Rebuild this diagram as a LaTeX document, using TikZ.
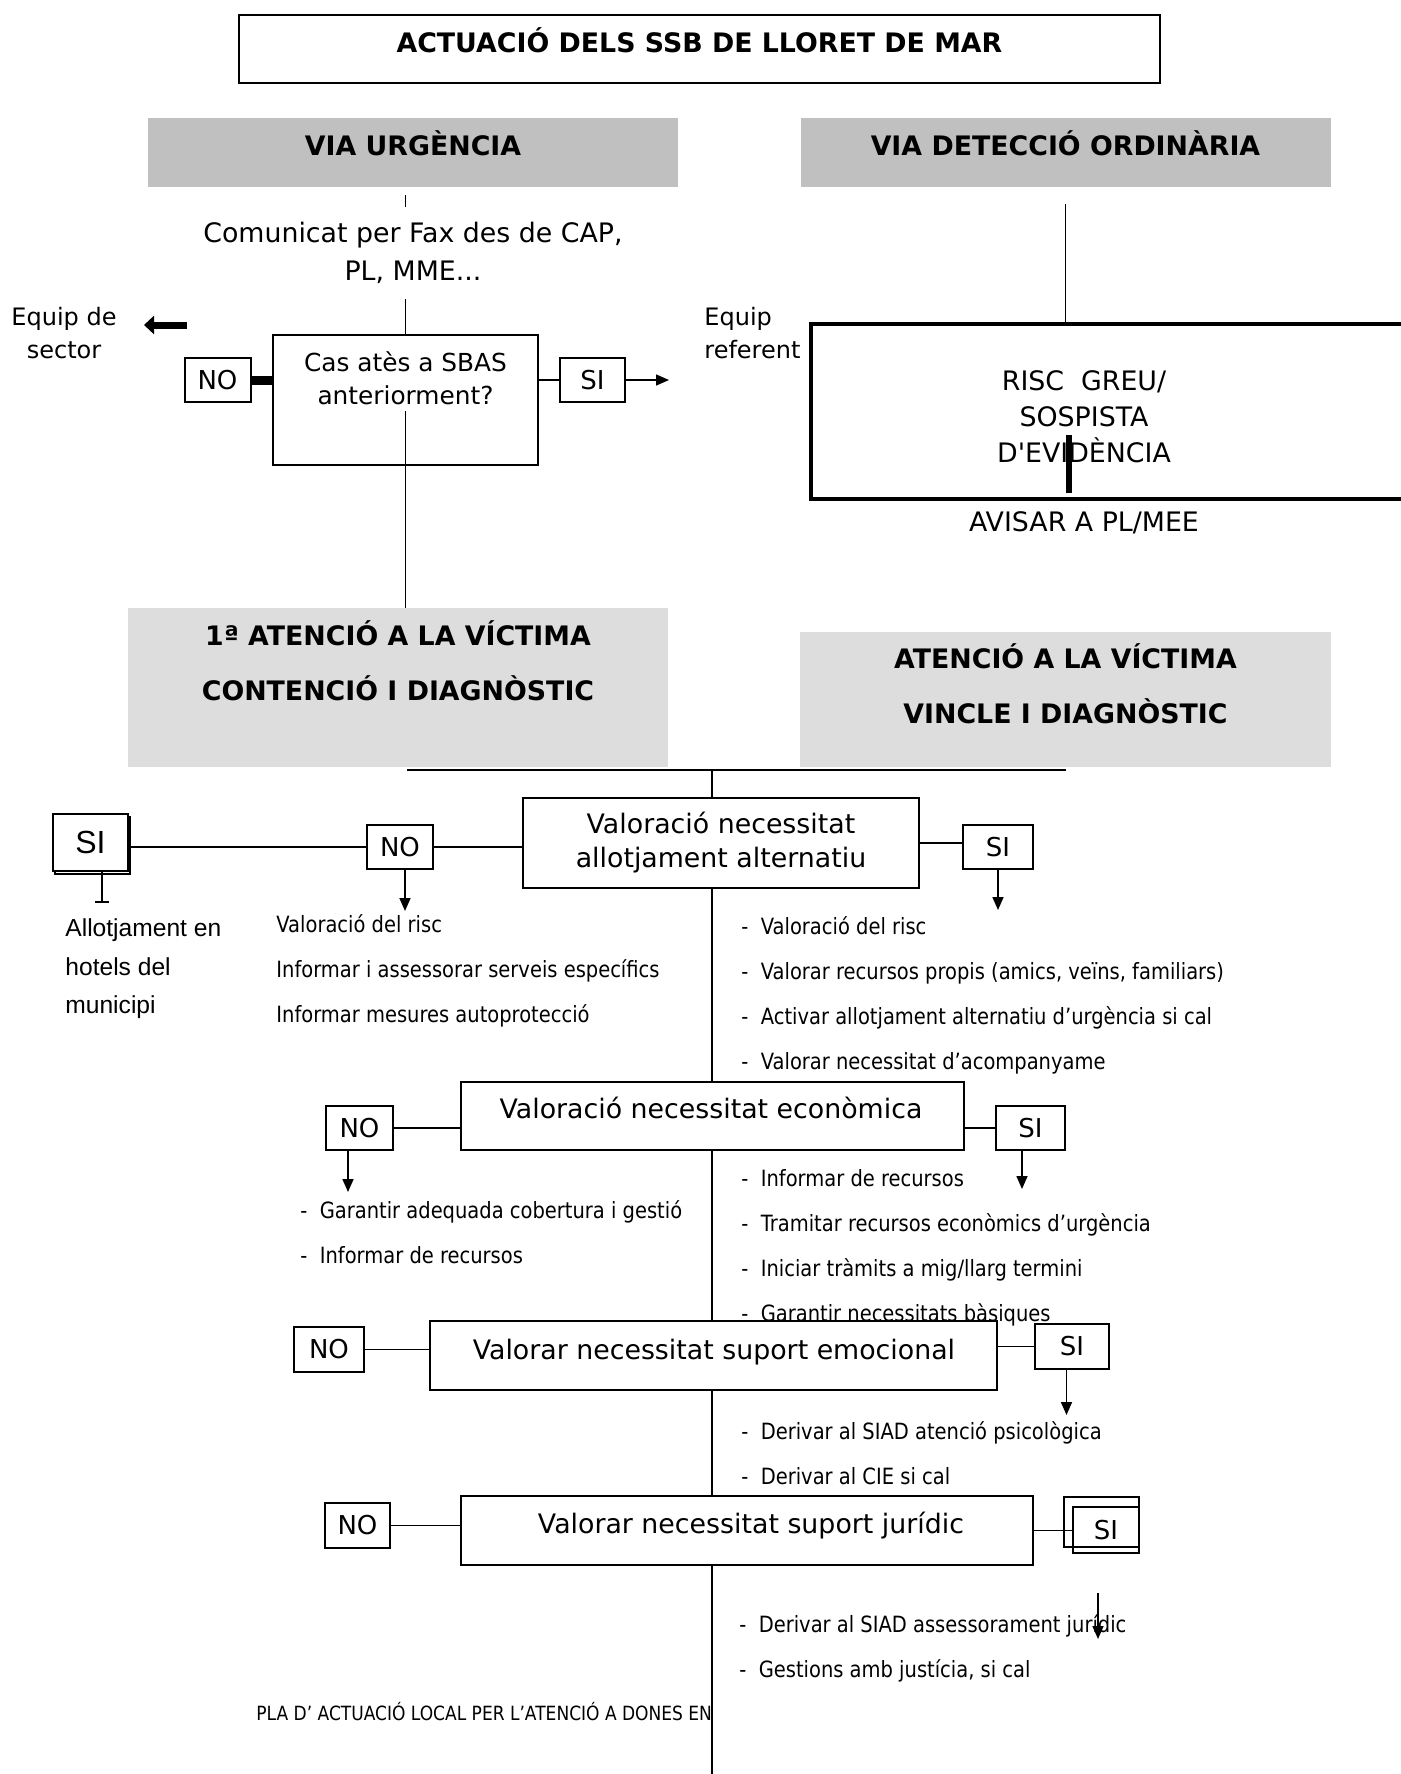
\documentclass[tikz,border=0pt]{standalone}
\usepackage{fontspec}
\setmainfont{DejaVu Sans}
\newfontfamily\listfont{DejaVu Sans}[FakeStretch=0.87]
\newfontfamily\arialfont{Liberation Sans}
\usetikzlibrary{arrows.meta,shadows}
\definecolor{viagray}{HTML}{C0C0C0}
\definecolor{atengray}{HTML}{DDDDDD}

\begin{document}
\begin{tikzpicture}[
    x=0.5pt, y=-0.5pt,
    box/.style={draw, line width=1pt, fill=white, inner sep=0pt},
    optbox/.style={draw, line width=1pt, fill=white, inner sep=0pt, minimum width=33pt, minimum height=22pt, font=\fontsize{13}{15}\selectfont},
    via/.style={fill=viagray, inner sep=0pt, minimum width=265pt, minimum height=34.5pt},
    aten/.style={fill=atengray, inner sep=0pt},
    head/.style={font=\bfseries\fontsize{13.4}{27.5}\selectfont, align=center, inner sep=0pt},
    txt/.style={font=\fontsize{13.4}{17}\selectfont, align=center, inner sep=0pt},
    lst/.style={font=\listfont\fontsize{11.2}{22.5}\selectfont, align=left, anchor=west, inner sep=0pt},
    ln/.style={line width=0.8pt},
    arr/.style={ln, -{Triangle[length=6.5pt,width=5.5pt]}}
]
\useasboundingbox (0,0) rectangle (1401,1774);
\clip (0,0) rectangle (1401,1774);

% capçalera
\node[box, line width=1.2pt, minimum width=460.5pt, minimum height=34pt] (title) at (699.5,49) {};
\node[head] (titletxt) at (699.5,40) {ACTUACIÓ DELS SSB DE LLORET DE MAR};
\node[via] (urg) at (413,152.5) {};
\node[head] (urgtxt) at (413,143) {VIA URGÈNCIA};
\node[via] (det) at (1065.5,152.5) {};
\node[head] (dettxt) at (1065.5,143) {VIA DETECCIÓ ORDINÀRIA};

% via urgencia
\node[box, minimum width=132.5pt, minimum height=65pt] (cas) at (405.5,400) {};
\node[txt, font=\fontsize{12.4}{16.5}\selectfont] (castxt) at (405.5,378) {Cas atès a SBAS\\anteriorment?};
\draw[ln] (cas.north) -- ++(0,-139);
\node[txt, fill=white, minimum height=46pt, font=\fontsize{13.4}{19}\selectfont] (com) at (413,253) {Comunicat per Fax des de CAP,\\PL, MME...};
\node[optbox] (no0) at (217.5,380) {NO};
\node[optbox, minimum width=32.5pt] (si0) at (592.5,380) {SI};
\draw[line width=4.5pt] (no0.east) -- (no0.east -| cas.west);
\draw[ln] (cas.east |- si0.west) -- (si0.west);
\draw[arr] (si0.east) -- ++(43,0);
\node[txt, font=\fontsize{12}{16.5}\selectfont] (eqsec) at (64,333.5) {Equip de\\sector};
\coordinate (secA) at (187,325);
\coordinate (secB) at (144,325);
\draw[line width=3.5pt, -{Triangle[length=5pt,width=9pt]}] (secA) -- (secB);
\node[txt, font=\fontsize{12}{16.5}\selectfont, align=left, anchor=west] (eqref) at (704,333.5) {Equip\\referent};

% via deteccio
\node[box, fill=none, line width=2.2pt, minimum width=297.5pt, minimum height=87.5pt] (riskbox) at (1108.5,411.5) {};
\node[txt, font=\fontsize{13.4}{18}\selectfont] (risk) at (1084,417) {RISC~~GREU/\\SOSPISTA\\D\textquotesingle EVIDÈNCIA};
\draw[ln] ([yshift=-8.5pt]det.south) -- (det.south |- riskbox.north);
\coordinate (barT) at (1069,435);
\coordinate (barB) at (1069,493);
\draw[line width=3.2pt] (barT) -- (barB);
\node[txt] (avisar) at (1084,523) {AVISAR A PL/MEE};

% atencio a la victima
\node[aten, minimum width=270pt, minimum height=79.5pt] (aten1) at (398,687.5) {};
\node[head] (aten1txt) at (398,661) {1ª ATENCIÓ A LA VÍCTIMA\\CONTENCIÓ I DIAGNÒSTIC};
\node[aten, minimum width=265.5pt, minimum height=67.5pt] (aten2) at (1065.5,699.5) {};
\node[head] (aten2txt) at (1065.5,684) {ATENCIÓ A LA VÍCTIMA\\VINCLE I DIAGNÒSTIC};
\draw[ln] ([yshift=27.5pt]cas.south) -- (cas.south |- aten1.north);

\coordinate (joinL) at (407,770);
\coordinate (joinR) at (1066,770);
\draw[line width=1.2pt] (joinL) -- (joinR);
\coordinate (spineT) at (712,770);
\coordinate (spineB) at (712,1774);
\draw[ln] (spineT) -- (spineB);

% allotjament alternatiu
\node[box, txt, minimum width=198pt, minimum height=45pt] (val1) at (721,843) {Valoració necessitat\\allotjament alternatiu};
\node[optbox] (no1) at (400,847) {NO};
\node[optbox, minimum width=35pt] (si1) at (998,847) {SI};
\node[optbox, minimum width=37.5pt, minimum height=28.5pt, font=\arialfont\fontsize{16}{18}\selectfont,
      copy shadow={shadow xshift=0.75pt, shadow yshift=-1.5pt}] (sil) at (90.5,842.5) {SI};
\draw[ln] (no1.west) -- (no1.west -| sil.east);
\draw[ln] (no1.east) -- (no1.east -| val1.west);
\draw[ln] (val1.east) -- (val1.east -| si1.west);
\draw[arr] ([xshift=2.5pt]no1.south) -- ++(0,41);
\draw[arr] (si1.south) -- ++(0,40);
\draw[ln, -{Bar[width=7pt]}] ([xshift=5.75pt]sil.south) -- ++(0,31);
\node[lst, font=\arialfont\fontsize{12.3}{19.25}\selectfont] (hotels) at (65,969) {Allotjament en\\hotels del\\municipi};
\node[lst] (noalt) at (276,971) {Valoració del risc\\Informar i assessorar serveis específics\\Informar mesures autoprotecció};
\node[lst] (sialt) at (741,995) {- \ Valoració del risc\\- \ Valorar recursos propis (amics, veïns, familiars)\\- \ Activar allotjament alternatiu d’urgència si cal\\- \ Valorar necessitat d’acompanyame};

% necessitat economica
\node[box, minimum width=251.5pt, minimum height=34pt] (econ) at (712.5,1116) {};
\node[txt] (econtxt) at (711,1108) {Valoració necessitat econòmica};
\node[optbox, minimum width=33.5pt] (no2) at (359.5,1128) {NO};
\node[optbox, minimum width=34.5pt] (si2) at (1030.5,1128) {SI};
\draw[ln] (no2.east) -- (no2.east -| econ.west);
\draw[ln] (si2.west) -- (si2.west -| econ.east);
\draw[arr] ([xshift=-5.75pt]no2.south) -- ++(0,41);
\draw[arr] ([xshift=-4.25pt]si2.south) -- ++(0,38);
\node[lst] (noecon) at (300,1232) {- \ Garantir adequada cobertura i gestió\\- \ Informar de recursos};
\node[lst] (siecon) at (741,1248) {- \ Informar de recursos\\- \ Tramitar recursos econòmics d’urgència\\- \ Iniciar tràmits a mig/llarg termini\\- \ Garantir necessitats bàsiques};

% suport emocional
\node[box, minimum width=283.5pt, minimum height=34.5pt] (emo) at (713.5,1355.5) {};
\node[txt] (emotxt) at (714,1352) {Valorar necessitat suport emocional};
\node[optbox, minimum width=35pt, minimum height=22.5pt] (no3) at (329,1349.5) {NO};
\node[optbox, minimum width=37pt, minimum height=22.5pt] (si3) at (1072,1346.5) {SI};
\draw[ln] (no3.east) -- (no3.east -| emo.west);
\draw[ln] (si3.west) -- (si3.west -| emo.east);
\draw[arr] ([xshift=-2.75pt]si3.south) -- ++(0,45);
\node[lst] (siemo) at (741,1453) {- \ Derivar al SIAD atenció psicològica\\- \ Derivar al CIE si cal};

% suport juridic
\node[box, minimum width=286pt, minimum height=34.5pt] (jur) at (747,1530.5) {};
\node[txt] (jurtxt) at (751,1526) {Valorar necessitat suport jurídic};
\node[optbox, minimum width=32.5pt, minimum height=22.5pt] (no4) at (357.5,1525.5) {NO};
\node[optbox, minimum width=33pt, minimum height=23pt] (si4) at (1106,1530) {SI};
\draw[line width=1pt] (1064,1497) rectangle (1139,1547);
\draw[ln] (no4.east) -- (no4.east -| jur.west);
\draw[ln] (jur.east) -- (jur.east -| si4.west);
\coordinate (jurA) at (1098,1593);
\coordinate (jurB) at (1098,1639);
\draw[arr] (jurA) -- (jurB);
\node[lst] (sijur) at (739,1648) {- \ Derivar al SIAD assessorament jurídic\\- \ Gestions amb justícia, si cal};

\node[lst, font=\listfont\fontsize{9.8}{12}\selectfont] (footer) at (256,1712) {PLA D’ ACTUACIÓ LOCAL PER L’ATENCIÓ A DONES EN};
\end{tikzpicture}
\end{document}
